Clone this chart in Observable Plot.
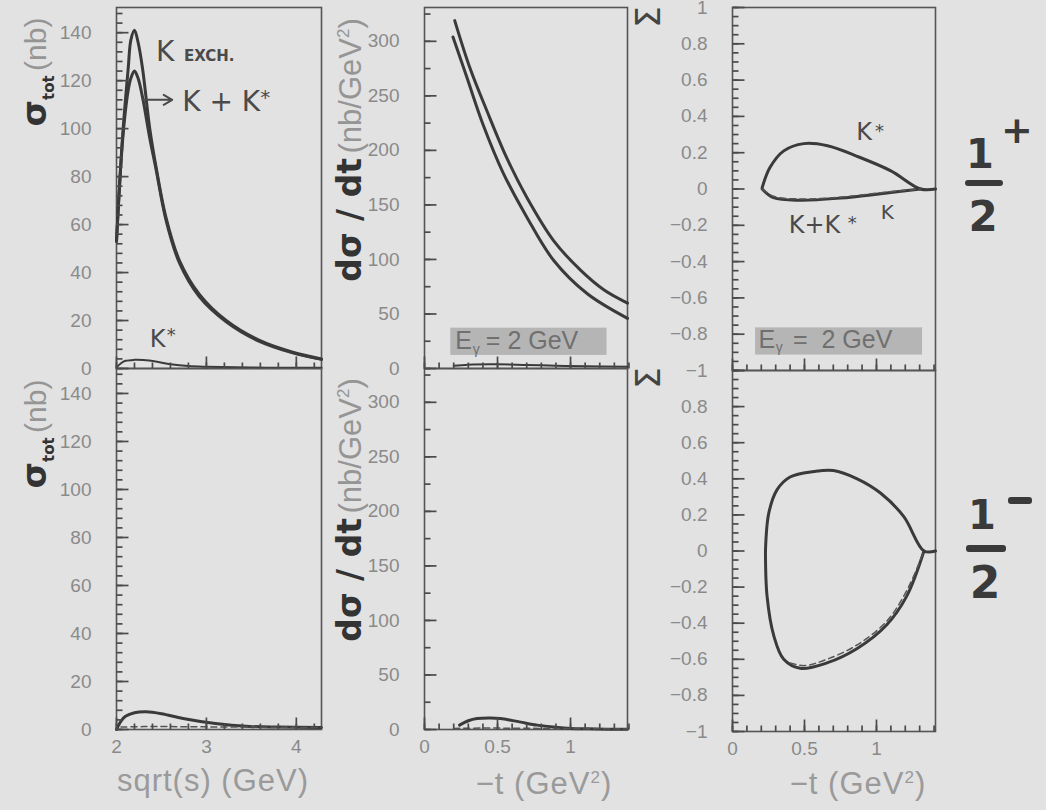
<!DOCTYPE html>
<html><head><meta charset="utf-8">
<script src="https://cdn.jsdelivr.net/npm/d3@7"></script>
<script src="https://cdn.jsdelivr.net/npm/@observablehq/plot@0.6"></script>
<style>
body{margin:0;background:#e2e2e2;}
#chart{position:relative;width:1046px;height:810px;overflow:hidden;background:#e2e2e2;font-family:"Liberation Sans",sans-serif;}
#chart svg{position:absolute;left:0;top:0;}
.rot{position:absolute;white-space:nowrap;transform:translate(-50%,-50%) rotate(-90deg);}
.gray{color:#959595;font-family:"Liberation Sans",sans-serif;}
.hand{color:#333;font-family:"DejaVu Sans",sans-serif;font-weight:bold;}
.xt{position:absolute;white-space:nowrap;transform:translate(-50%,-50%);color:#9a9a9a;font-size:31px;letter-spacing:1px;}
.big{position:absolute;color:#3a3a3a;font-family:"DejaVu Sans",sans-serif;font-weight:bold;transform:translate(-50%,-50%);}
.bar{position:absolute;background:#3a3a3a;border-radius:3px;}
</style></head><body><div id="chart"></div><script>
// ---------- data ----------
const p1X      = [2.0, 2.07, 2.13, 2.16, 2.2, 2.24, 2.29, 2.37, 2.44, 2.55, 2.70, 2.92, 3.22, 3.59, 3.96, 4.28];
const p1KExch  = [53, 98, 125, 137, 141, 136, 125, 100, 84, 63, 45, 31, 20, 11.7, 6.8, 4];
const p1KKs    = [53, 96, 116, 121, 124, 121, 113, 96, 83, 62, 44, 30, 19.5, 11.3, 6.5, 3.8];
const p1KsX    = [2.0, 2.05, 2.1, 2.2, 2.3, 2.45, 2.6, 2.8, 3.0, 3.5, 4.0, 4.28];
const p1Ks     = [0.5, 2.2, 3.2, 3.6, 3.5, 2.8, 1.8, 1.0, 0.7, 0.4, 0.3, 0.3];
const p4X      = [2.0, 2.05, 2.1, 2.2, 2.33, 2.5, 2.74, 3.1, 3.48, 3.8, 4.28];
const p4Y      = [0, 3.5, 5.5, 7, 7.4, 6.6, 4.6, 2.5, 1.3, 1.0, 0.8];
const p4DashX  = [2.05, 2.3, 2.6, 3.0, 3.5, 4.0, 4.28];
const p4Dash   = [1.0, 1.2, 1.2, 1.1, 1.0, 0.9, 0.8];
const p2AX     = [0.207, 0.31, 0.425, 0.56, 0.70, 0.885, 1.07, 1.23, 1.39];
const p2A      = [319, 276, 237, 194, 157, 117, 90, 72, 60];
const p2BX     = [0.195, 0.29, 0.40, 0.54, 0.70, 0.885, 1.115, 1.39];
const p2B      = [304, 267, 224, 179, 139, 99, 68.5, 46];
const p2SX     = [0.2, 0.3, 0.5, 0.7, 0.9, 1.1, 1.39];
const p2S      = [2.5, 3.5, 3.8, 3.2, 2.6, 2.0, 1.5];
const p5X      = [0.24, 0.3, 0.36, 0.45, 0.52, 0.65, 0.77, 0.9, 1.0, 1.12, 1.25, 1.39];
const p5Y      = [4, 8, 10, 10.5, 10, 7, 4, 2, 1, 0.6, 0.3, 0.2];
const p5DashX  = [0.2, 0.4, 0.6, 0.8, 1.0, 1.2, 1.39];
const p5Dash   = [1.0, 1.3, 1.2, 1.0, 0.8, 0.6, 0.5];
const p3KsX    = [0.206, 0.26, 0.356, 0.495, 0.66, 0.866, 1.10, 1.306, 1.41];
const p3Ks     = [0.007, 0.118, 0.21, 0.25, 0.238, 0.18, 0.1, 0.0, 0.0];
const p3KX     = [0.206, 0.285, 0.47, 0.75, 1.03, 1.306];
const p3K      = [0, -0.048, -0.062, -0.05, -0.026, 0];
const p3KKs    = [0, -0.04, -0.055, -0.045, -0.02, 0];
const p6UX     = [0.229, 0.252, 0.31, 0.40, 0.565, 0.70, 0.866, 1.03, 1.19, 1.33, 1.41];
const p6U      = [0, 0.21, 0.34, 0.41, 0.44, 0.446, 0.40, 0.32, 0.19, 0, 0];
const p6LX     = [0.229, 0.24, 0.287, 0.356, 0.47, 0.656, 0.866, 1.07, 1.21, 1.33];
const p6L      = [0, -0.25, -0.47, -0.6, -0.65, -0.62, -0.54, -0.41, -0.25, 0];
const p6DX     = [0.4, 0.5, 0.656, 0.866, 1.07, 1.21, 1.33];
const p6D      = [-0.62, -0.635, -0.6, -0.52, -0.39, -0.22, 0];

const sigTicks  = [0, 20, 40, 60, 80, 100, 120, 140];
const dsdtTicks = [0, 50, 100, 150, 200, 250, 300];
const SigTicksTop = [-1, -0.8, -0.6, -0.4, -0.2, 0, 0.2, 0.4, 0.6, 0.8, 1];
const SigTicksBot = [-1, -0.8, -0.6, -0.4, -0.2, 0, 0.2, 0.4, 0.6, 0.8];
const sTicks    = [2, 3, 4];
const tTicks    = [0, 0.5, 1];

// ---------- helpers ----------
const pts = (xs, ys) => xs.map((x, i) => ({x, y: ys[i]}));
const fmt = d => (d < 0 ? "\u2212" + Math.abs(d) : String(d));
const INK = "#3a3a3a";
const line = (data, extra = {}) => Plot.line(data, {x: "x", y: "y", stroke: INK, strokeWidth: 3, curve: "catmull-rom", ...extra});
const dash = (data) => Plot.line(data, {x: "x", y: "y", stroke: "#555", strokeWidth: 1.5, strokeDasharray: "6,4", curve: "catmull-rom"});
const note = (t, x, y, size, extra = {}) => Plot.text([t], {x, y, text: d => d, fontSize: size, fill: "#4a4a4a", fontFamily: "DejaVu Sans", textAnchor: "start", ...extra});

const baseOpts = c => {
  const [l, t, r, b] = c.frame;
  return {
    width: 1046, height: 810,
    marginLeft: l, marginTop: t, marginRight: 1046 - r, marginBottom: 810 - b,
    x: {domain: c.xDomain, axis: null},
    y: {domain: c.yDomain, axis: null},
    style: {background: "transparent", fontFamily: "Liberation Sans, sans-serif", overflow: "visible"}
  };
};

function panel(c) {
  const marks = [
    Plot.frame({stroke: "#555", strokeWidth: 1.6, fill: "none"}),
    Plot.axisY(c.yLabels, {anchor: "left", tickSize: 0, tickPadding: 25, fontSize: 19, color: "#8a8a8a", tickFormat: fmt, label: null}),
    ...c.marks
  ];
  if (c.xLabels) marks.push(Plot.axisX(c.xLabels, {anchor: "bottom", tickSize: 0, tickPadding: 10, fontSize: 19, color: "#8a8a8a", tickFormat: fmt, label: null}));
  return Plot.plot({...baseOpts(c), marks});
}

// inward tick marks, drawn in their own layer through the panel's scales
function tickLayer(c) {
  const [l, t, r, b] = c.frame;
  const [xa, xb] = c.xDomain, [ya, yb] = c.yDomain;
  const dxPx = (xb - xa) / (r - l), dyPx = (yb - ya) / (b - t);
  const data = [
    ...c.yMinor.map(v => ({x1: xa, x2: xa + 6 * dxPx, y1: v, y2: v})),
    ...c.yMajor.map(v => ({x1: xa, x2: xa + 12 * dxPx, y1: v, y2: v})),
    ...c.xMinor.map(v => ({x1: v, x2: v, y1: ya, y2: ya + 6 * dyPx})),
    ...c.xMajor.map(v => ({x1: v, x2: v, y1: ya, y2: ya + 12 * dyPx}))
  ];
  return Plot.plot({...baseOpts(c), marks: [
    Plot.link(data, {x1: "x1", x2: "x2", y1: "y1", y2: "y2", stroke: "#4a4a4a", strokeWidth: 1.7})
  ]});
}

const sMinor = d3.range(2, 4.31, 0.2);
const tMinor = d3.range(0, 1.41, 0.1);

const egBox = (x1, x2, y1, y2) => Plot.rect([0], {x1, x2, y1, y2, fill: "#b0b0b0", fillOpacity: 0.9});

const configs = [
  {frame: [116, 7, 321, 368], xDomain: [2, 4.28], yDomain: [0, 150.5],
    xMajor: sTicks, xMinor: sMinor, yMajor: sigTicks, yMinor: d3.range(0, 151, 4), yLabels: sigTicks,
    marks: [
      line(pts(p1X, p1KExch)), line(pts(p1X, p1KKs)), line(pts(p1KsX, p1Ks), {strokeWidth: 2}),
      note("K", 2.44, 132, 28),
      note("EXCH.", 2.75, 130, 15, {fontWeight: "bold", letterSpacing: 1}),
      Plot.arrow([0], {x1: 2.29, y1: 112, x2: 2.62, y2: 112, stroke: "#4a4a4a", strokeWidth: 2, headLength: 8}),
      note("K + K", 2.73, 111, 28),
      note("*", 3.6, 113, 20),
      note("K", 2.37, 12, 24),
      note("*", 2.56, 14, 18)
    ]},
  {frame: [424, 7, 627, 368], xDomain: [0, 1.39], yDomain: [0, 331],
    xMajor: tTicks, xMinor: tMinor, yMajor: dsdtTicks, yMinor: d3.range(0, 332, 25), yLabels: dsdtTicks,
    marks: [
      egBox(0.18, 1.25, 12, 37),
      line(pts(p2AX, p2A)), line(pts(p2BX, p2B)), line(pts(p2SX, p2S), {strokeWidth: 2}),
      note("E", 0.21, 25, 25, {fill: "#707070", fontFamily: "Liberation Sans"}),
      note("\u03b3", 0.33, 17, 14, {fill: "#707070", fontFamily: "Liberation Sans"}),
      note("= 2 GeV", 0.42, 25, 25, {fill: "#707070", fontFamily: "Liberation Sans"})
    ]},
  {frame: [732, 7, 935, 370], xDomain: [0, 1.41], yDomain: [-1, 1],
    xMajor: tTicks, xMinor: tMinor, yMajor: SigTicksTop, yMinor: d3.range(-1, 1.001, 0.05), yLabels: SigTicksTop,
    marks: [
      egBox(0.16, 1.32, -0.765, -0.915),
      line(pts(p3KsX, p3Ks)), line(pts(p3KX, p3K)), dash(pts(p3KX, p3KKs)),
      note("K", 0.86, 0.31, 24), note("*", 0.99, 0.32, 18),
      note("K+K", 0.39, -0.2, 24), note("*", 0.80, -0.19, 18),
      note("K", 1.03, -0.13, 20),
      note("E", 0.18, -0.83, 25, {fill: "#707070", fontFamily: "Liberation Sans"}),
      note("\u03b3", 0.30, -0.875, 14, {fill: "#707070", fontFamily: "Liberation Sans"}),
      note("=  2 GeV", 0.42, -0.83, 25, {fill: "#707070", fontFamily: "Liberation Sans"})
    ]},
  {frame: [116, 368, 321, 729], xDomain: [2, 4.28], yDomain: [0, 150.4],
    xMajor: sTicks, xMinor: sMinor, yMajor: sigTicks, yMinor: d3.range(0, 150, 4), yLabels: sigTicks, xLabels: sTicks,
    marks: [line(pts(p4X, p4Y)), dash(pts(p4DashX, p4Dash))]},
  {frame: [424, 368, 627, 729], xDomain: [0, 1.39], yDomain: [0, 331],
    xMajor: tTicks, xMinor: tMinor, yMajor: dsdtTicks, yMinor: d3.range(0, 331, 25), yLabels: dsdtTicks, xLabels: tTicks,
    marks: [line(pts(p5X, p5Y)), dash(pts(p5DashX, p5Dash))]},
  {frame: [732, 370, 935, 731], xDomain: [0, 1.41], yDomain: [-1, 1],
    xMajor: tTicks, xMinor: tMinor, yMajor: SigTicksTop, yMinor: d3.range(-1, 1.001, 0.05), yLabels: SigTicksBot, xLabels: tTicks,
    marks: [line(pts(p6UX, p6U)), line(pts(p6LX, p6L)), dash(pts(p6DX, p6D))]}
];

const root = document.getElementById("chart");
configs.forEach(c => root.appendChild(panel(c)));
configs.forEach(c => root.appendChild(tickLayer(c)));

function html(s) { root.insertAdjacentHTML("beforeend", s); }
const sigTitle = (x, y) => `<div class="rot" style="left:${x}px;top:${y}px"><span class="hand" style="font-size:34px">σ<sub style="font-size:15px">tot</sub></span> <span class="gray" style="font-size:30px">(nb)</span></div>`;
const dsTitle = (x, y) => `<div class="rot" style="left:${x}px;top:${y}px"><span class="hand" style="font-size:33px">dσ / dt</span> <span class="gray" style="font-size:31px">(nb/GeV<sup style="font-size:17px">2</sup>)</span></div>`;
const SigTitle = (x, y) => `<div class="rot hand" style="left:${x}px;top:${y}px;font-size:34px;color:#444;font-weight:normal">Σ</div>`;
html(sigTitle(36, 72));
html(sigTitle(36, 434));
html(dsTitle(349, 150));
html(dsTitle(349, 510));
html(SigTitle(648, 17));
html(SigTitle(648, 378));
html(`<div class="xt" style="left:213px;top:781px">sqrt(s) (GeV)</div>`);
html(`<div class="xt" style="left:544px;top:784px">−t (GeV<sup style="font-size:17px">2</sup>)</div>`);
html(`<div class="xt" style="left:858px;top:784px">−t (GeV<sup style="font-size:17px">2</sup>)</div>`);
html(`<div class="big" style="left:980px;top:154px;font-size:40px">1</div>`);
html(`<div class="bar" style="left:965px;top:180px;width:38px;height:6px"></div>`);
html(`<div class="big" style="left:983px;top:216px;font-size:42px">2</div>`);
html(`<div class="big" style="left:1017px;top:130px;font-size:38px">+</div>`);
html(`<div class="big" style="left:982px;top:515px;font-size:40px">1</div>`);
html(`<div class="bar" style="left:966px;top:545px;width:40px;height:7px"></div>`);
html(`<div class="big" style="left:985px;top:582px;font-size:44px">2</div>`);
html(`<div class="bar" style="left:1008px;top:497px;width:24px;height:7px"></div>`);
</script></body></html>
